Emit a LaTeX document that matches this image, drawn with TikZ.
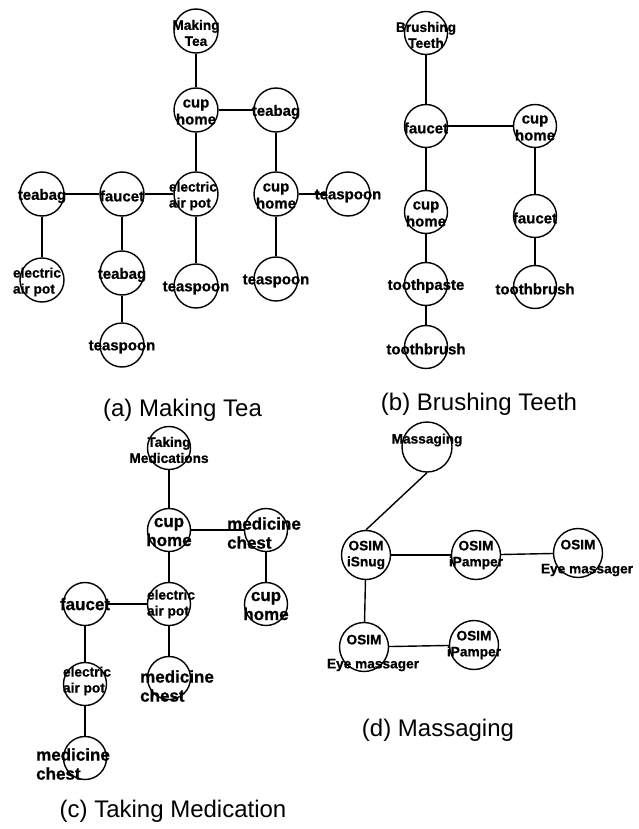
\documentclass[tikz,border=0pt]{standalone}
\usepackage{fontspec}
\setmainfont{Liberation Sans}
\newfontfamily\heavyfont{Liberation Sans}[BoldFeatures={FakeBold=0.8}]
\begin{document}
\begin{tikzpicture}[x=1pt,y=-1pt,
  circ/.style={circle,draw,line width=1.4pt,inner sep=0pt,minimum size=#1},
  circ/.default=44pt,
  edge/.style={line width=1.4pt},
  la/.style={align=center,inner sep=0pt,yshift=-2pt,font=\heavyfont\bfseries\fontsize{15}{17}\selectfont},
  ls/.style={align=center,inner sep=0pt,yshift=-2pt,font=\heavyfont\bfseries\fontsize{13.7}{16}\selectfont},
  lb/.style={align=center,inner sep=0pt,yshift=-2pt,font=\heavyfont\bfseries\fontsize{17}{19}\selectfont},
  captxt/.style={inner sep=0pt,font=\fontsize{24}{28}\selectfont}
]
\useasboundingbox (0,0) rectangle (639,829);

% ---------- (a) Making Tea ----------
\node[circ,label={[ls]center:Making\\Tea}] (a0) at (196,31) {};
\node[circ,label={[la]center:cup\\home}] (a1) at (196,110) {};
\node[circ,label={[la]center:teabag}] (a2) at (276,110) {};
\node[circ,label={[ls,align=left,xshift=-3pt]center:electric\\air pot}] (a3) at (196,194) {};
\node[circ,label={[la]center:faucet}] (a4) at (122,194) {};
\node[circ,label={[la]center:teabag}] (a5) at (42,194) {};
\node[circ,label={[la]center:cup\\home}] (a6) at (276,194) {};
\node[circ,label={[la]center:teaspoon}] (a7) at (348,194) {};
\node[circ,label={[ls,align=left,xshift=-5pt]center:electric\\air pot}] (a8) at (42,280) {};
\node[circ,label={[la]center:teabag}] (a9) at (122,273) {};
\node[circ,label={[la]center:teaspoon}] (a10) at (122,345) {};
\node[circ,label={[la]center:teaspoon}] (a11) at (196,286) {};
\node[circ,label={[la]center:teaspoon}] (a12) at (276,279) {};

\draw[edge] (a0) -- (a1);
\draw[edge] (a1) -- (a2);
\draw[edge] (a1) -- (a3);
\draw[edge] (a2) -- (a6);
\draw[edge] (a6) -- (a7);
\draw[edge] (a6) -- (a12);
\draw[edge] (a3) -- (a4);
\draw[edge] (a4) -- (a5);
\draw[edge] (a5) -- (a8);
\draw[edge] (a4) -- (a9);
\draw[edge] (a9) -- (a10);
\draw[edge] (a3) -- (a11);

\node[captxt] (capa) at (182.5,410) {(a) Making Tea};

% ---------- (b) Brushing Teeth ----------
\node[circ=43pt,label={[ls]center:Brushing\\Teeth}] (b0) at (426,33) {};
\node[circ=43pt,label={[la]center:faucet}] (b1) at (426,126) {};
\node[circ=43pt,label={[la]center:cup\\home}] (b2) at (535,126) {};
\node[circ=43pt,label={[la]center:cup\\home}] (b3) at (426,212) {};
\node[circ=43pt,label={[la]center:faucet}] (b4) at (535,216) {};
\node[circ=43pt,label={[la]center:toothpaste}] (b5) at (426,284) {};
\node[circ=43pt,label={[la]center:toothbrush}] (b6) at (535,287) {};
\node[circ=43pt,label={[la]center:toothbrush}] (b7) at (426,347) {};

\draw[edge] (b0) -- (b1);
\draw[edge] (b1) -- (b2);
\draw[edge] (b1) -- (b3);
\draw[edge] (b2) -- (b4);
\draw[edge] (b4) -- (b6);
\draw[edge] (b3) -- (b5);
\draw[edge] (b5) -- (b7);

\node[captxt] (capb) at (479,404) {(b) Brushing Teeth};

% ---------- (c) Taking Medication ----------
\node[circ=43pt,label={[ls]center:Taking\\Medications}] (c0) at (169,448) {};
\node[circ=43pt,label={[lb]center:cup\\home}] (c1) at (169,530) {};
\node[circ=43pt,label={[lb,align=left,xshift=-2pt,yshift=-1pt]center:medicine\\chest}] (c2) at (266,530) {};
\node[circ=43pt,label={[lb]center:cup\\home}] (c3) at (266,604) {};
\node[circ=43pt,label={[ls,align=left,xshift=2pt,yshift=2pt]center:electric\\air pot}] (c4) at (169,604) {};
\node[circ=43pt,label={[lb,yshift=2pt]center:faucet}] (c5) at (85,604) {};
\node[circ=43pt,label={[ls,align=left,xshift=2pt,yshift=5pt]center:electric\\air pot}] (c6) at (85,684) {};
\node[circ=43pt,label={[lb,align=left,xshift=8pt,yshift=-6pt]center:medicine\\chest}] (c7) at (169,678) {};
\node[circ=43pt,label={[lb,align=left,xshift=-12pt,yshift=-4pt]center:medicine\\chest}] (c8) at (85,758) {};

\draw[edge] (c0) -- (c1);
\draw[edge] (c1) -- (c2);
\draw[edge] (c1) -- (c4);
\draw[edge] (c2) -- (c3);
\draw[edge] (c4) -- (c5);
\draw[edge] (c5) -- (c6);
\draw[edge] (c6) -- (c8);
\draw[edge] (c4) -- (c7);

\node[captxt] (capc) at (173,811) {(c) Taking Medication};

% ---------- (d) Massaging ----------
\node[circ=50pt,label={[ls,yshift=9pt]center:Massaging}] (d0) at (427,447) {};
\node[circ=49pt,label={[ls,yshift=2pt]center:OSIM\\iSnug}] (d1) at (366,555) {};
\node[circ=49pt,label={[ls,yshift=2pt]center:OSIM\\iPamper}] (d2) at (476,555) {};
\node[circ=49pt,label={[ls,xshift=9pt,yshift=-3pt]center:OSIM\hspace*{18pt}\\[8pt]Eye massager}] (d3) at (578,553) {};
\node[circ=49pt,label={[ls,xshift=9pt,yshift=-4pt]center:OSIM\hspace*{18pt}\\[8pt]Eye massager}] (d4) at (364,647) {};
\node[circ=49pt,label={[ls,yshift=2pt]center:OSIM\\iPamper}] (d5) at (474,645) {};

\draw[edge] (d0.south) -- (d1.north);
\draw[edge] (d1) -- (d2);
\draw[edge] (d2) -- (d3);
\draw[edge] (d1) -- (d4);
\draw[edge] (d4) -- (d5);

\node[captxt] (capd) at (438,730) {(d) Massaging};
\end{tikzpicture}
\end{document}
